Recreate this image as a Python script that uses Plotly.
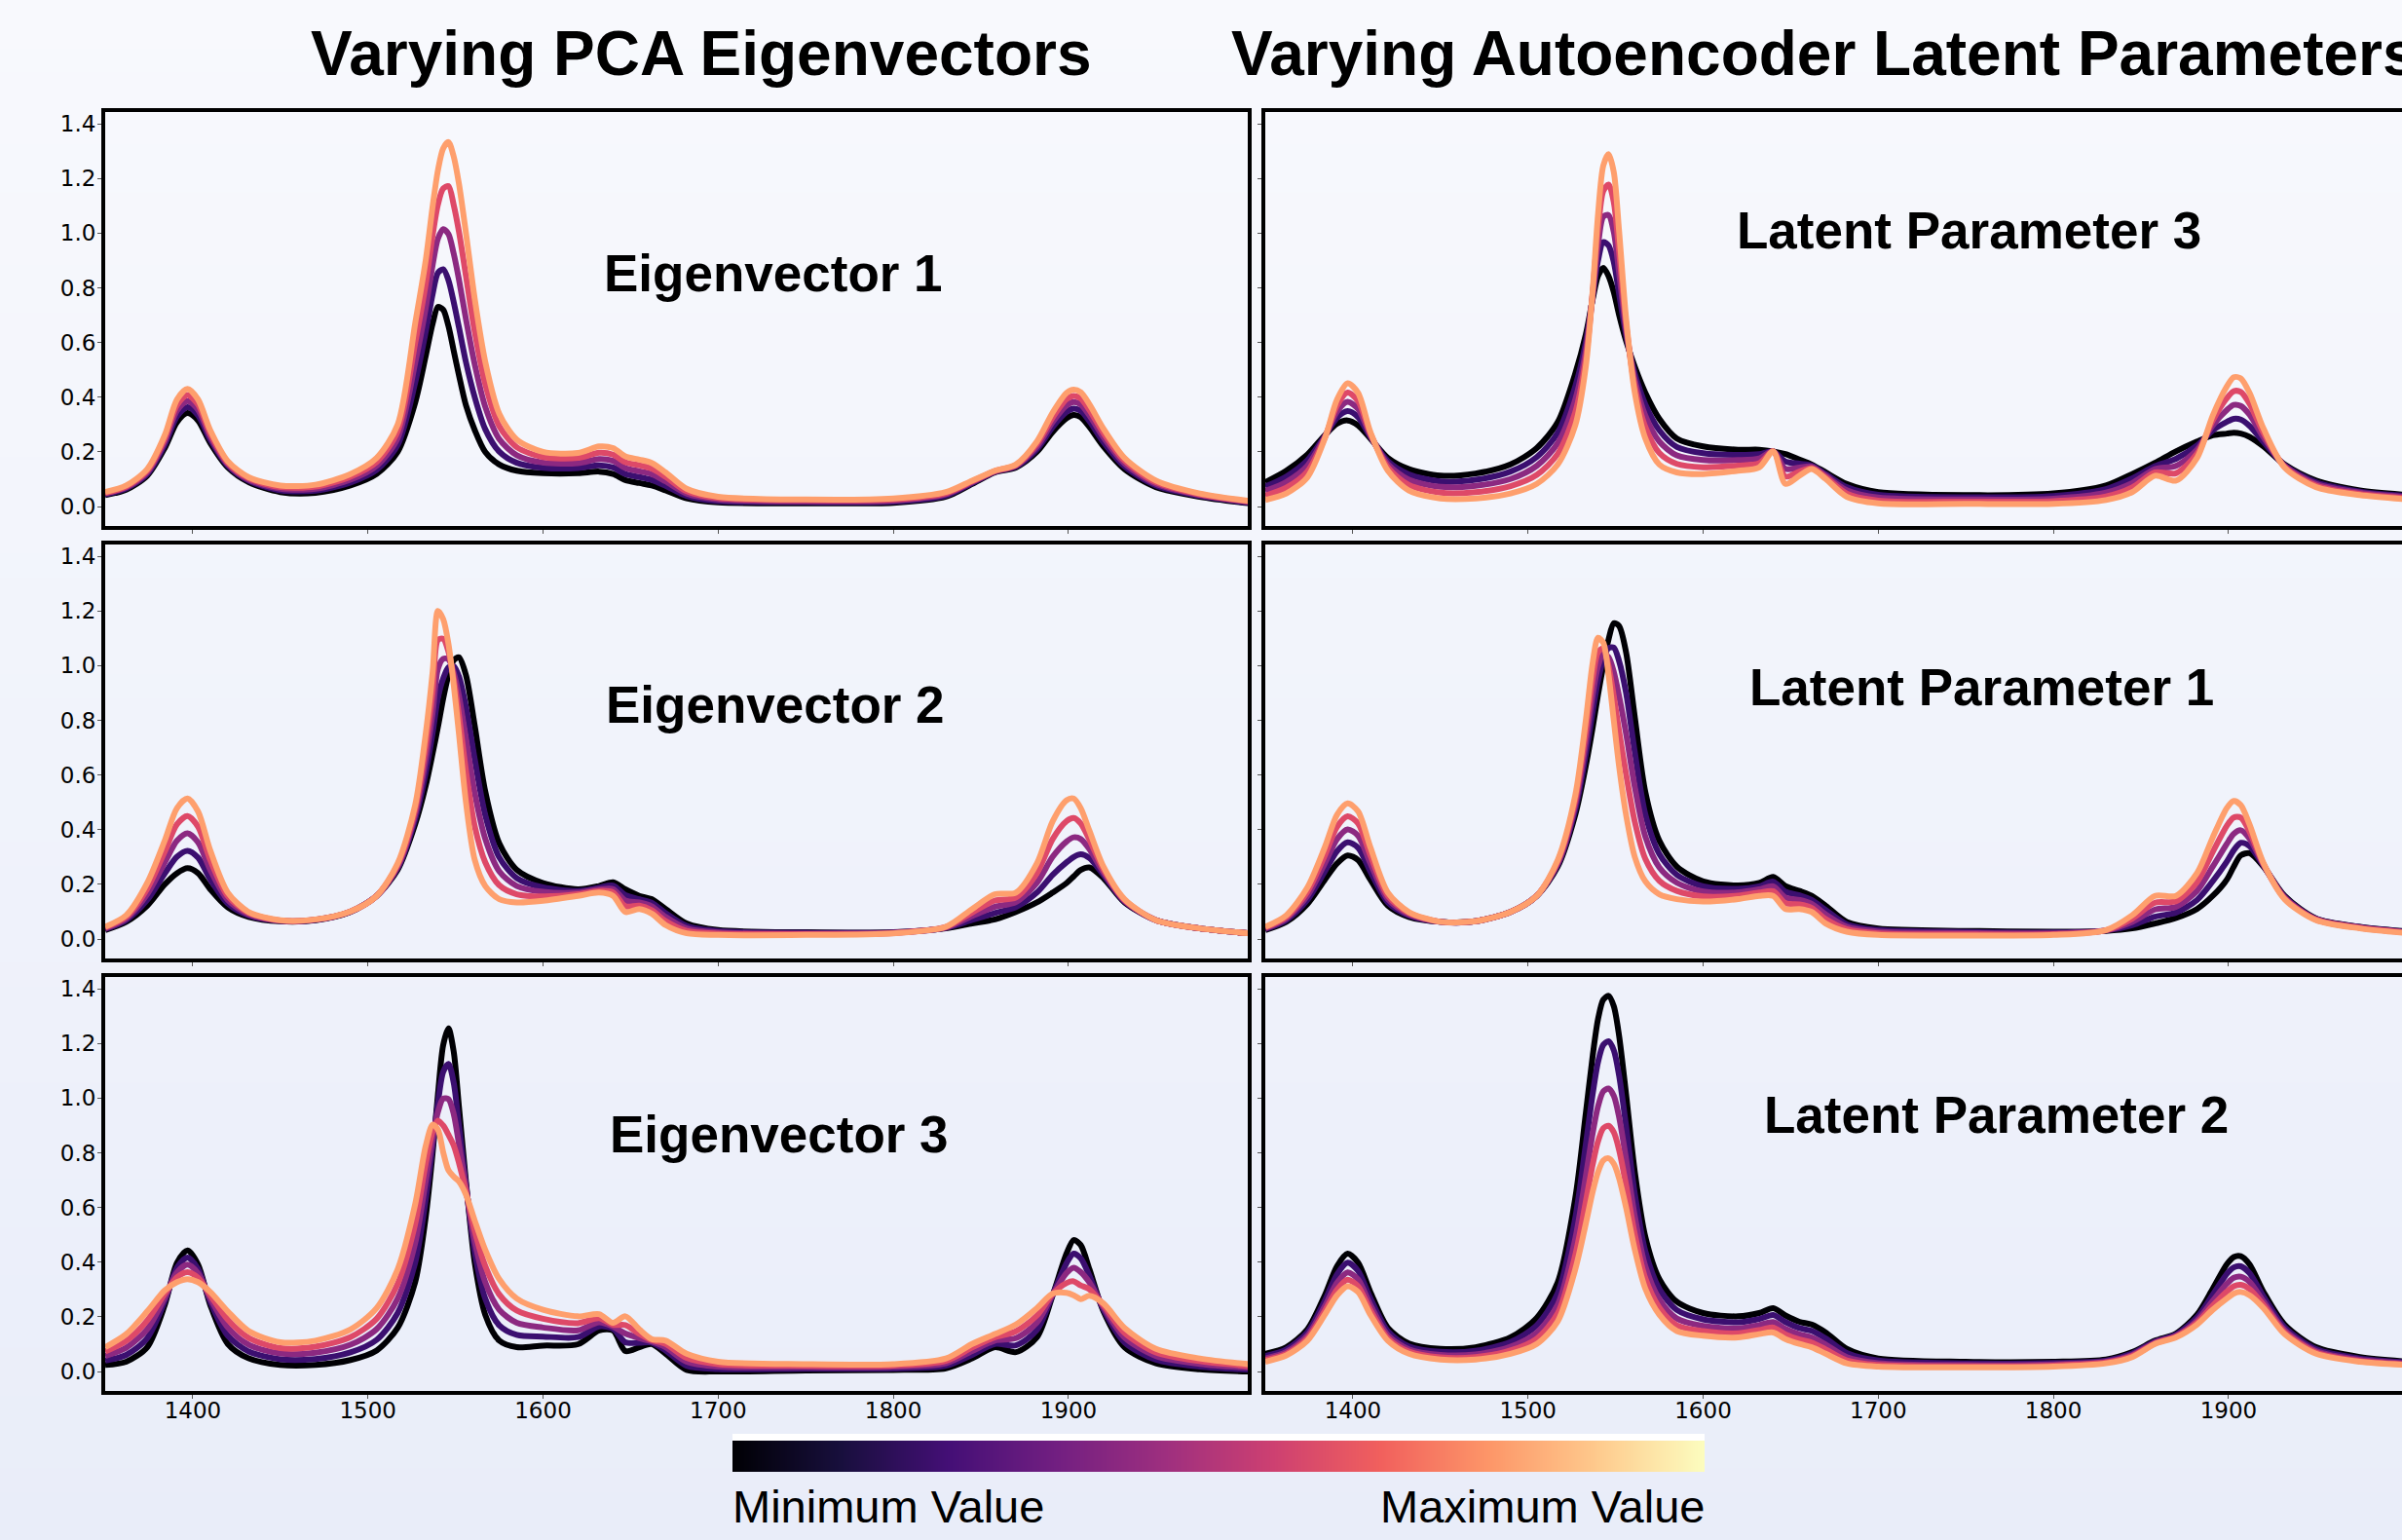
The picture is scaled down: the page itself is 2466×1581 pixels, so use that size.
import plotly.graph_objects as go

W, H = 2466, 1581

# ---------------- data ----------------
wavenumber = [1350, 1362, 1374, 1384, 1391, 1397, 1403, 1410, 1420, 1432,
              1450, 1470, 1490, 1505, 1517, 1527, 1533, 1537, 1540, 1543,
              1546, 1549, 1552, 1556, 1561, 1567, 1575, 1585, 1600, 1620,
              1632, 1640, 1647, 1655, 1662, 1670, 1682, 1700, 1750, 1800,
              1830, 1845, 1858, 1870, 1882, 1891, 1899, 1903, 1907, 1912,
              1920, 1932, 1950, 1975, 2003]

x_ticks = [1400, 1500, 1600, 1700, 1800, 1900]
y_ticks = [0.0, 0.2, 0.4, 0.6, 0.8, 1.0, 1.2, 1.4]

# each panel: 5 spectra, from minimum (black) to maximum (orange) value
eigenvector_1 = [
    [0.042,0.062,0.113,0.214,0.309,0.342,0.315,0.232,0.143,0.089,0.053,0.050,0.077,0.119,0.200,0.380,0.550,0.670,0.730,0.720,
     0.660,0.570,0.480,0.370,0.280,0.200,0.154,0.131,0.122,0.122,0.128,0.119,0.097,0.086,0.077,0.059,0.030,0.015,0.012,0.014,
     0.036,0.083,0.125,0.143,0.200,0.273,0.323,0.335,0.327,0.291,0.220,0.137,0.071,0.036,0.012],
    [0.045,0.066,0.119,0.226,0.330,0.364,0.334,0.244,0.149,0.094,0.059,0.058,0.088,0.134,0.225,0.453,0.638,0.778,0.855,0.868,
     0.828,0.748,0.655,0.528,0.400,0.283,0.201,0.160,0.142,0.141,0.151,0.143,0.119,0.108,0.098,0.076,0.039,0.020,0.016,0.018,
     0.040,0.086,0.127,0.146,0.210,0.291,0.346,0.358,0.350,0.312,0.236,0.147,0.077,0.039,0.014],
    [0.048,0.070,0.125,0.238,0.351,0.386,0.354,0.256,0.155,0.098,0.065,0.065,0.098,0.149,0.250,0.525,0.725,0.885,0.980,1.015,
     0.997,0.925,0.830,0.685,0.520,0.365,0.247,0.188,0.161,0.159,0.174,0.167,0.141,0.129,0.119,0.092,0.048,0.026,0.019,0.022,
     0.045,0.089,0.128,0.149,0.219,0.309,0.370,0.382,0.373,0.333,0.253,0.158,0.083,0.042,0.017],
    [0.050,0.073,0.131,0.249,0.371,0.408,0.373,0.267,0.160,0.103,0.071,0.073,0.109,0.163,0.275,0.598,0.813,0.993,1.105,1.163,
     1.172,1.103,1.005,0.843,0.640,0.448,0.294,0.217,0.181,0.178,0.197,0.190,0.162,0.151,0.139,0.109,0.056,0.031,0.023,0.026,
     0.049,0.092,0.130,0.151,0.229,0.326,0.393,0.405,0.395,0.353,0.269,0.168,0.089,0.045,0.019],
    [0.053,0.077,0.137,0.261,0.392,0.430,0.392,0.279,0.166,0.107,0.077,0.080,0.119,0.178,0.300,0.670,0.900,1.100,1.230,1.310,
     1.333,1.280,1.180,1.000,0.760,0.530,0.340,0.245,0.200,0.196,0.220,0.214,0.184,0.172,0.160,0.125,0.065,0.036,0.026,0.030,
     0.053,0.095,0.131,0.154,0.238,0.344,0.416,0.428,0.418,0.374,0.285,0.178,0.095,0.048,0.021],
]

eigenvector_2 = [
    [0.033,0.063,0.122,0.200,0.241,0.259,0.241,0.182,0.116,0.081,0.065,0.069,0.099,0.158,0.253,0.420,0.560,0.680,0.776,0.880,
     0.965,1.020,1.030,0.965,0.780,0.540,0.350,0.253,0.205,0.182,0.194,0.208,0.182,0.158,0.146,0.110,0.057,0.033,0.025,0.025,
     0.039,0.057,0.072,0.099,0.134,0.170,0.205,0.229,0.253,0.262,0.223,0.134,0.069,0.039,0.021],
    [0.036,0.069,0.143,0.240,0.301,0.323,0.298,0.218,0.130,0.086,0.066,0.070,0.100,0.158,0.259,0.438,0.608,0.755,0.882,0.953,
     0.994,0.998,0.960,0.849,0.658,0.454,0.299,0.223,0.189,0.176,0.188,0.196,0.161,0.146,0.133,0.095,0.048,0.029,0.023,0.024,
     0.041,0.070,0.095,0.117,0.170,0.235,0.281,0.300,0.310,0.296,0.234,0.137,0.069,0.039,0.021],
    [0.039,0.075,0.164,0.280,0.360,0.387,0.354,0.253,0.143,0.090,0.067,0.071,0.100,0.158,0.265,0.455,0.655,0.830,0.988,1.025,
     1.023,0.975,0.890,0.733,0.535,0.367,0.248,0.194,0.173,0.170,0.182,0.183,0.141,0.134,0.120,0.081,0.039,0.024,0.020,0.023,
     0.042,0.084,0.118,0.135,0.206,0.301,0.357,0.372,0.366,0.329,0.244,0.140,0.069,0.039,0.021],
    [0.042,0.081,0.184,0.320,0.420,0.450,0.411,0.289,0.157,0.095,0.068,0.071,0.101,0.158,0.271,0.473,0.703,0.905,1.094,1.098,
     1.051,0.953,0.820,0.616,0.413,0.281,0.197,0.164,0.156,0.164,0.176,0.171,0.120,0.122,0.106,0.066,0.030,0.020,0.018,0.022,
     0.044,0.097,0.141,0.152,0.241,0.366,0.432,0.443,0.423,0.363,0.255,0.143,0.069,0.039,0.021],
    [0.045,0.087,0.205,0.360,0.479,0.514,0.467,0.324,0.170,0.099,0.069,0.072,0.101,0.158,0.277,0.490,0.750,0.980,1.200,1.170,
     1.080,0.930,0.750,0.500,0.290,0.194,0.146,0.134,0.140,0.158,0.170,0.158,0.099,0.110,0.093,0.051,0.021,0.015,0.015,0.021,
     0.045,0.110,0.164,0.170,0.277,0.431,0.508,0.514,0.479,0.396,0.265,0.146,0.069,0.039,0.021],
]

eigenvector_3 = [
    [0.024,0.036,0.089,0.243,0.398,0.443,0.392,0.243,0.101,0.048,0.024,0.024,0.042,0.077,0.160,0.327,0.564,0.802,1.015,1.194,
     1.255,1.170,0.968,0.695,0.398,0.208,0.113,0.089,0.095,0.100,0.150,0.150,0.075,0.089,0.101,0.065,0.006,0.000,0.004,0.006,
     0.012,0.048,0.089,0.071,0.125,0.279,0.433,0.481,0.463,0.374,0.220,0.089,0.030,0.008,0.000],
    [0.040,0.061,0.122,0.257,0.380,0.417,0.376,0.255,0.131,0.073,0.045,0.046,0.070,0.116,0.214,0.398,0.629,0.827,0.983,1.096,
     1.125,1.056,0.900,0.683,0.437,0.267,0.169,0.134,0.128,0.126,0.165,0.157,0.107,0.105,0.106,0.077,0.021,0.009,0.010,0.011,
     0.021,0.061,0.101,0.096,0.152,0.281,0.397,0.431,0.414,0.350,0.227,0.107,0.043,0.018,0.007],
    [0.057,0.087,0.155,0.270,0.363,0.391,0.360,0.267,0.161,0.098,0.066,0.069,0.098,0.155,0.267,0.470,0.695,0.853,0.950,0.998,
     0.996,0.942,0.832,0.671,0.475,0.327,0.226,0.178,0.161,0.151,0.180,0.164,0.139,0.122,0.110,0.089,0.036,0.018,0.016,0.017,
     0.030,0.075,0.113,0.122,0.179,0.282,0.361,0.380,0.364,0.326,0.235,0.125,0.057,0.028,0.014],
    [0.073,0.112,0.187,0.284,0.345,0.364,0.343,0.279,0.190,0.123,0.086,0.091,0.126,0.193,0.321,0.541,0.760,0.878,0.918,0.900,
     0.866,0.827,0.763,0.659,0.514,0.386,0.282,0.223,0.193,0.177,0.195,0.171,0.170,0.138,0.115,0.101,0.050,0.027,0.021,0.022,
     0.039,0.088,0.125,0.147,0.205,0.284,0.324,0.330,0.315,0.301,0.242,0.142,0.070,0.038,0.020],
    [0.089,0.137,0.220,0.297,0.327,0.338,0.327,0.291,0.220,0.148,0.107,0.113,0.154,0.232,0.374,0.612,0.825,0.903,0.885,0.802,
     0.736,0.713,0.695,0.647,0.552,0.445,0.338,0.267,0.226,0.202,0.210,0.178,0.202,0.154,0.119,0.113,0.065,0.036,0.027,0.027,
     0.048,0.101,0.137,0.172,0.232,0.285,0.288,0.279,0.265,0.277,0.249,0.160,0.083,0.048,0.027],
]

latent_parameter_3 = [
    [0.089,0.131,0.190,0.261,0.303,0.315,0.297,0.249,0.178,0.137,0.113,0.121,0.154,0.214,0.309,0.487,0.629,0.760,0.843,0.873,
     0.843,0.784,0.701,0.606,0.511,0.416,0.321,0.249,0.220,0.208,0.208,0.202,0.192,0.172,0.154,0.125,0.083,0.053,0.042,0.048,
     0.077,0.119,0.160,0.202,0.238,0.261,0.267,0.270,0.267,0.255,0.220,0.154,0.095,0.059,0.042],
    [0.073,0.110,0.169,0.258,0.325,0.349,0.327,0.255,0.166,0.118,0.092,0.098,0.128,0.181,0.270,0.440,0.600,0.769,0.900,0.967,
     0.955,0.894,0.778,0.627,0.487,0.374,0.279,0.218,0.195,0.189,0.192,0.202,0.165,0.157,0.150,0.119,0.071,0.043,0.034,0.039,
     0.064,0.103,0.148,0.175,0.223,0.279,0.310,0.321,0.318,0.295,0.236,0.151,0.089,0.055,0.038],
    [0.057,0.090,0.149,0.255,0.348,0.383,0.357,0.261,0.155,0.098,0.072,0.076,0.101,0.149,0.232,0.392,0.570,0.778,0.956,1.060,
     1.066,1.004,0.855,0.648,0.464,0.333,0.238,0.187,0.170,0.170,0.176,0.202,0.138,0.143,0.146,0.113,0.060,0.033,0.026,0.029,
     0.051,0.086,0.137,0.149,0.208,0.297,0.353,0.372,0.368,0.336,0.253,0.149,0.083,0.051,0.034],
    [0.040,0.069,0.128,0.252,0.370,0.417,0.386,0.267,0.143,0.079,0.051,0.053,0.075,0.116,0.193,0.345,0.541,0.787,1.013,1.154,
     1.178,1.113,0.932,0.668,0.440,0.291,0.196,0.156,0.144,0.150,0.159,0.202,0.110,0.128,0.141,0.107,0.048,0.022,0.018,0.020,
     0.037,0.070,0.125,0.122,0.193,0.315,0.396,0.422,0.419,0.376,0.269,0.146,0.077,0.046,0.030],
    [0.024,0.048,0.107,0.249,0.392,0.451,0.416,0.273,0.131,0.059,0.030,0.030,0.048,0.083,0.154,0.297,0.511,0.796,1.069,1.247,
     1.289,1.223,1.009,0.689,0.416,0.249,0.154,0.125,0.119,0.131,0.143,0.202,0.083,0.113,0.137,0.101,0.036,0.012,0.010,0.010,
     0.024,0.053,0.113,0.095,0.178,0.333,0.439,0.473,0.469,0.416,0.285,0.143,0.071,0.042,0.026],
]

latent_parameter_1 = [
    [0.033,0.063,0.128,0.217,0.277,0.306,0.289,0.217,0.122,0.081,0.063,0.065,0.099,0.158,0.265,0.455,0.633,0.776,0.894,1.001,
     1.096,1.155,1.145,1.049,0.811,0.538,0.360,0.265,0.211,0.196,0.205,0.227,0.194,0.176,0.158,0.122,0.063,0.039,0.030,0.027,
     0.030,0.039,0.057,0.077,0.110,0.158,0.217,0.265,0.306,0.314,0.265,0.158,0.075,0.045,0.027],
    [0.036,0.069,0.143,0.247,0.322,0.354,0.334,0.247,0.134,0.086,0.063,0.065,0.099,0.158,0.271,0.473,0.675,0.835,0.946,1.022,
     1.064,1.066,1.017,0.901,0.683,0.456,0.311,0.235,0.193,0.184,0.193,0.210,0.173,0.160,0.143,0.106,0.054,0.033,0.026,0.024,
     0.031,0.051,0.082,0.097,0.143,0.212,0.283,0.325,0.352,0.340,0.268,0.155,0.074,0.044,0.026],
    [0.039,0.075,0.158,0.277,0.366,0.401,0.378,0.277,0.146,0.090,0.063,0.065,0.099,0.158,0.277,0.491,0.716,0.895,0.998,1.043,
     1.031,0.977,0.889,0.752,0.556,0.375,0.262,0.206,0.174,0.171,0.182,0.193,0.152,0.143,0.129,0.090,0.045,0.027,0.022,0.021,
     0.032,0.063,0.108,0.118,0.176,0.265,0.348,0.385,0.398,0.367,0.271,0.152,0.072,0.042,0.024],
    [0.042,0.081,0.173,0.306,0.411,0.449,0.423,0.306,0.158,0.095,0.063,0.065,0.099,0.158,0.283,0.508,0.758,0.954,1.050,1.063,
     0.999,0.888,0.761,0.604,0.428,0.293,0.213,0.176,0.156,0.159,0.170,0.175,0.131,0.127,0.114,0.073,0.036,0.021,0.017,0.018,
     0.032,0.075,0.133,0.138,0.208,0.319,0.414,0.445,0.444,0.393,0.274,0.149,0.071,0.041,0.023],
    [0.045,0.087,0.188,0.336,0.455,0.496,0.467,0.336,0.170,0.099,0.063,0.065,0.099,0.158,0.289,0.526,0.799,1.013,1.102,1.084,
     0.966,0.799,0.633,0.455,0.300,0.211,0.164,0.146,0.137,0.146,0.158,0.158,0.110,0.110,0.099,0.057,0.027,0.015,0.013,0.015,
     0.033,0.087,0.158,0.158,0.241,0.372,0.479,0.505,0.490,0.419,0.277,0.146,0.069,0.039,0.021],
]

latent_parameter_2 = [
    [0.065,0.089,0.154,0.279,0.386,0.431,0.398,0.291,0.160,0.103,0.083,0.089,0.125,0.196,0.327,0.635,0.944,1.158,1.289,1.360,
     1.374,1.336,1.229,1.015,0.730,0.493,0.338,0.255,0.214,0.202,0.214,0.232,0.205,0.182,0.172,0.143,0.083,0.048,0.036,0.036,
     0.044,0.071,0.113,0.139,0.208,0.303,0.392,0.419,0.422,0.392,0.291,0.172,0.089,0.053,0.036],
    [0.057,0.081,0.143,0.259,0.356,0.398,0.368,0.268,0.147,0.092,0.072,0.076,0.108,0.169,0.287,0.562,0.831,1.018,1.132,1.195,
     1.208,1.175,1.083,0.899,0.650,0.440,0.302,0.225,0.191,0.180,0.192,0.207,0.181,0.159,0.149,0.121,0.068,0.040,0.030,0.031,
     0.040,0.066,0.110,0.135,0.198,0.281,0.357,0.381,0.385,0.360,0.274,0.162,0.082,0.048,0.033],
    [0.048,0.072,0.131,0.239,0.325,0.363,0.337,0.244,0.133,0.081,0.061,0.063,0.091,0.142,0.245,0.486,0.714,0.874,0.970,1.025,
     1.035,1.008,0.931,0.778,0.568,0.385,0.264,0.194,0.167,0.158,0.170,0.181,0.156,0.136,0.125,0.099,0.053,0.031,0.024,0.026,
     0.036,0.061,0.106,0.131,0.187,0.259,0.321,0.343,0.347,0.328,0.257,0.152,0.075,0.043,0.029],
    [0.042,0.065,0.121,0.222,0.300,0.336,0.312,0.225,0.122,0.073,0.052,0.053,0.077,0.120,0.213,0.426,0.621,0.759,0.842,0.890,
     0.899,0.875,0.811,0.683,0.502,0.341,0.234,0.169,0.148,0.140,0.152,0.161,0.136,0.117,0.106,0.081,0.041,0.024,0.019,0.022,
     0.033,0.057,0.103,0.128,0.179,0.241,0.292,0.312,0.317,0.302,0.244,0.144,0.070,0.039,0.026],
    [0.036,0.059,0.113,0.208,0.279,0.312,0.291,0.208,0.113,0.065,0.044,0.044,0.065,0.101,0.184,0.374,0.540,0.659,0.730,0.772,
     0.780,0.760,0.707,0.600,0.445,0.303,0.208,0.148,0.131,0.125,0.137,0.143,0.119,0.101,0.089,0.065,0.030,0.018,0.015,0.018,
     0.030,0.053,0.101,0.125,0.172,0.226,0.267,0.285,0.291,0.279,0.232,0.137,0.065,0.036,0.024],
]

panel_titles = ["Eigenvector 1", "Latent Parameter 3",
                "Eigenvector 2", "Latent Parameter 1",
                "Eigenvector 3", "Latent Parameter 2"]
column_titles = ["Varying PCA Eigenvectors", "Varying Autoencoder Latent Parameters"]
colorbar_labels = ["Minimum Value", "Maximum Value"]
colorbar_levels = list(range(256))

# magma(0.0, 0.2, 0.4, 0.6, 0.8)
line_colors = ["#000004", "#3b0f70", "#8c2981", "#de4968", "#fe9f6d"]

panels = [eigenvector_1, latent_parameter_3,
          eigenvector_2, latent_parameter_1,
          eigenvector_3, latent_parameter_2]

for p in panels:
    for c in p:
        assert len(c) == len(wavenumber), len(c)

# ---------------- layout geometry (pixels) ----------------
def fx(p):
    return p / W


def fy(p):
    return 1 - p / H


col_px = [(108, 1281), (1299, W)]
row_px = [(115, 540), (559, 984), (1003, 1428)]
px_per_unit = 1.798
x_ranges = [[1350, 1350 + (c[1] - c[0]) / px_per_unit] for c in col_px]
y_range = [-0.071, 1.443]

label_pos = [(794, 280), (2021, 236),
             (796, 723), (2034, 705),
             (800, 1164), (2049, 1144)]

fig = go.Figure()
layout = dict(
    width=W, height=H,
    margin=dict(l=0, r=0, t=0, b=0, pad=0),
    paper_bgcolor="#f1f3fa",
    plot_bgcolor="rgba(0,0,0,0)",
    showlegend=False,
)

tick_font = dict(family="DejaVu Sans", size=23, color="#000000")
bold_font = "Liberation Sans, Arial, sans-serif"

for i, curves in enumerate(panels):
    row, col = divmod(i, 2)
    n = i + 1
    xa = "x" if n == 1 else f"x{n}"
    ya = "y" if n == 1 else f"y{n}"
    for k, yvals in enumerate(curves):
        fig.add_trace(go.Scatter(
            x=wavenumber, y=yvals, mode="lines",
            line=dict(color=line_colors[k], width=6, shape="spline", smoothing=0.8),
            xaxis=xa, yaxis=ya, hoverinfo="skip"))
    x0, x1 = col_px[col]
    y0, y1 = row_px[row]
    layout["xaxis" if n == 1 else f"xaxis{n}"] = dict(
        domain=[fx(x0), min(1.0, fx(x1))], anchor=ya, range=x_ranges[col],
        showgrid=False, zeroline=False, showline=True, linecolor="#000000",
        linewidth=4, mirror=True, ticks="outside", ticklen=4, tickwidth=1,
        tickcolor="#555555", tickvals=x_ticks, ticktext=[str(v) for v in x_ticks],
        showticklabels=(row == 2), tickfont=tick_font, ticklabelstandoff=-8)
    layout["yaxis" if n == 1 else f"yaxis{n}"] = dict(
        domain=[fy(y1), fy(y0)], anchor=xa, range=y_range,
        showgrid=False, zeroline=False, showline=True, linecolor="#000000",
        linewidth=4, mirror=(col == 0), ticks="outside", ticklen=4, tickwidth=1,
        tickcolor="#555555", tickvals=y_ticks, ticktext=[f"{v:.1f}" for v in y_ticks],
        showticklabels=(col == 0), tickfont=tick_font, ticklabelstandoff=-3)

# colour bar drawn as a heatmap strip
fig.add_trace(go.Heatmap(z=[colorbar_levels], x=colorbar_levels, y=[0],
                         colorscale="Magma", showscale=False, zsmooth="best",
                         xaxis="x7", yaxis="y7", hoverinfo="skip"))
layout["xaxis7"] = dict(domain=[fx(752), fx(1750)], anchor="y7", visible=False,
                        range=[colorbar_levels[0], colorbar_levels[-1]])
layout["yaxis7"] = dict(domain=[fy(1511), fy(1479)], anchor="x7", visible=False,
                        range=[-0.5, 0.5])

# background gradient
shapes = []
top_c = (248, 249, 253)
bot_c = (233, 237, 249)
N = 64
for k in range(N):
    t = (k + 0.5) / N
    c = tuple(round(top_c[j] + (bot_c[j] - top_c[j]) * t) for j in range(3))
    shapes.append(dict(type="rect", xref="paper", yref="paper", layer="below",
                       x0=0, x1=1, y0=1 - (k + 1) / N - 0.002, y1=1 - k / N,
                       fillcolor=f"rgb{c}", line=dict(width=0)))
shapes.append(dict(type="rect", xref="paper", yref="paper", layer="below",
                   x0=fx(752), x1=fx(1750), y0=fy(1479), y1=fy(1472),
                   fillcolor="#ffffff", line=dict(width=0)))
layout["shapes"] = shapes

annotations = []
annotations.append(dict(text=f"<b>{column_titles[0]}</b>", xref="paper", yref="paper",
                        x=fx(720), y=fy(55), xanchor="center", yanchor="middle",
                        showarrow=False, font=dict(family=bold_font, size=64, color="#000000")))
annotations.append(dict(text=f"<b>{column_titles[1]}</b>", xref="paper", yref="paper",
                        x=fx(1262), y=fy(55), xanchor="left", yanchor="middle",
                        showarrow=False, font=dict(family=bold_font, size=64, color="#000000")))
for (px, py), t in zip(label_pos, panel_titles):
    annotations.append(dict(text=f"<b>{t}</b>", xref="paper", yref="paper",
                            x=fx(px), y=fy(py), xanchor="center", yanchor="middle",
                            showarrow=False, font=dict(family=bold_font, size=53, color="#000000")))
annotations.append(dict(text=colorbar_labels[0], xref="paper", yref="paper",
                        x=fx(750), y=fy(1546), xanchor="left", yanchor="middle",
                        showarrow=False, font=dict(family="Liberation Sans, Arial", size=47, color="#000000")))
annotations.append(dict(text=colorbar_labels[1], xref="paper", yref="paper",
                        x=fx(1752), y=fy(1546), xanchor="right", yanchor="middle",
                        showarrow=False, font=dict(family="Liberation Sans, Arial", size=47, color="#000000")))
layout["annotations"] = annotations

fig.update_layout(**layout)
fig.write_html("out.html", config={"displayModeBar": False})
